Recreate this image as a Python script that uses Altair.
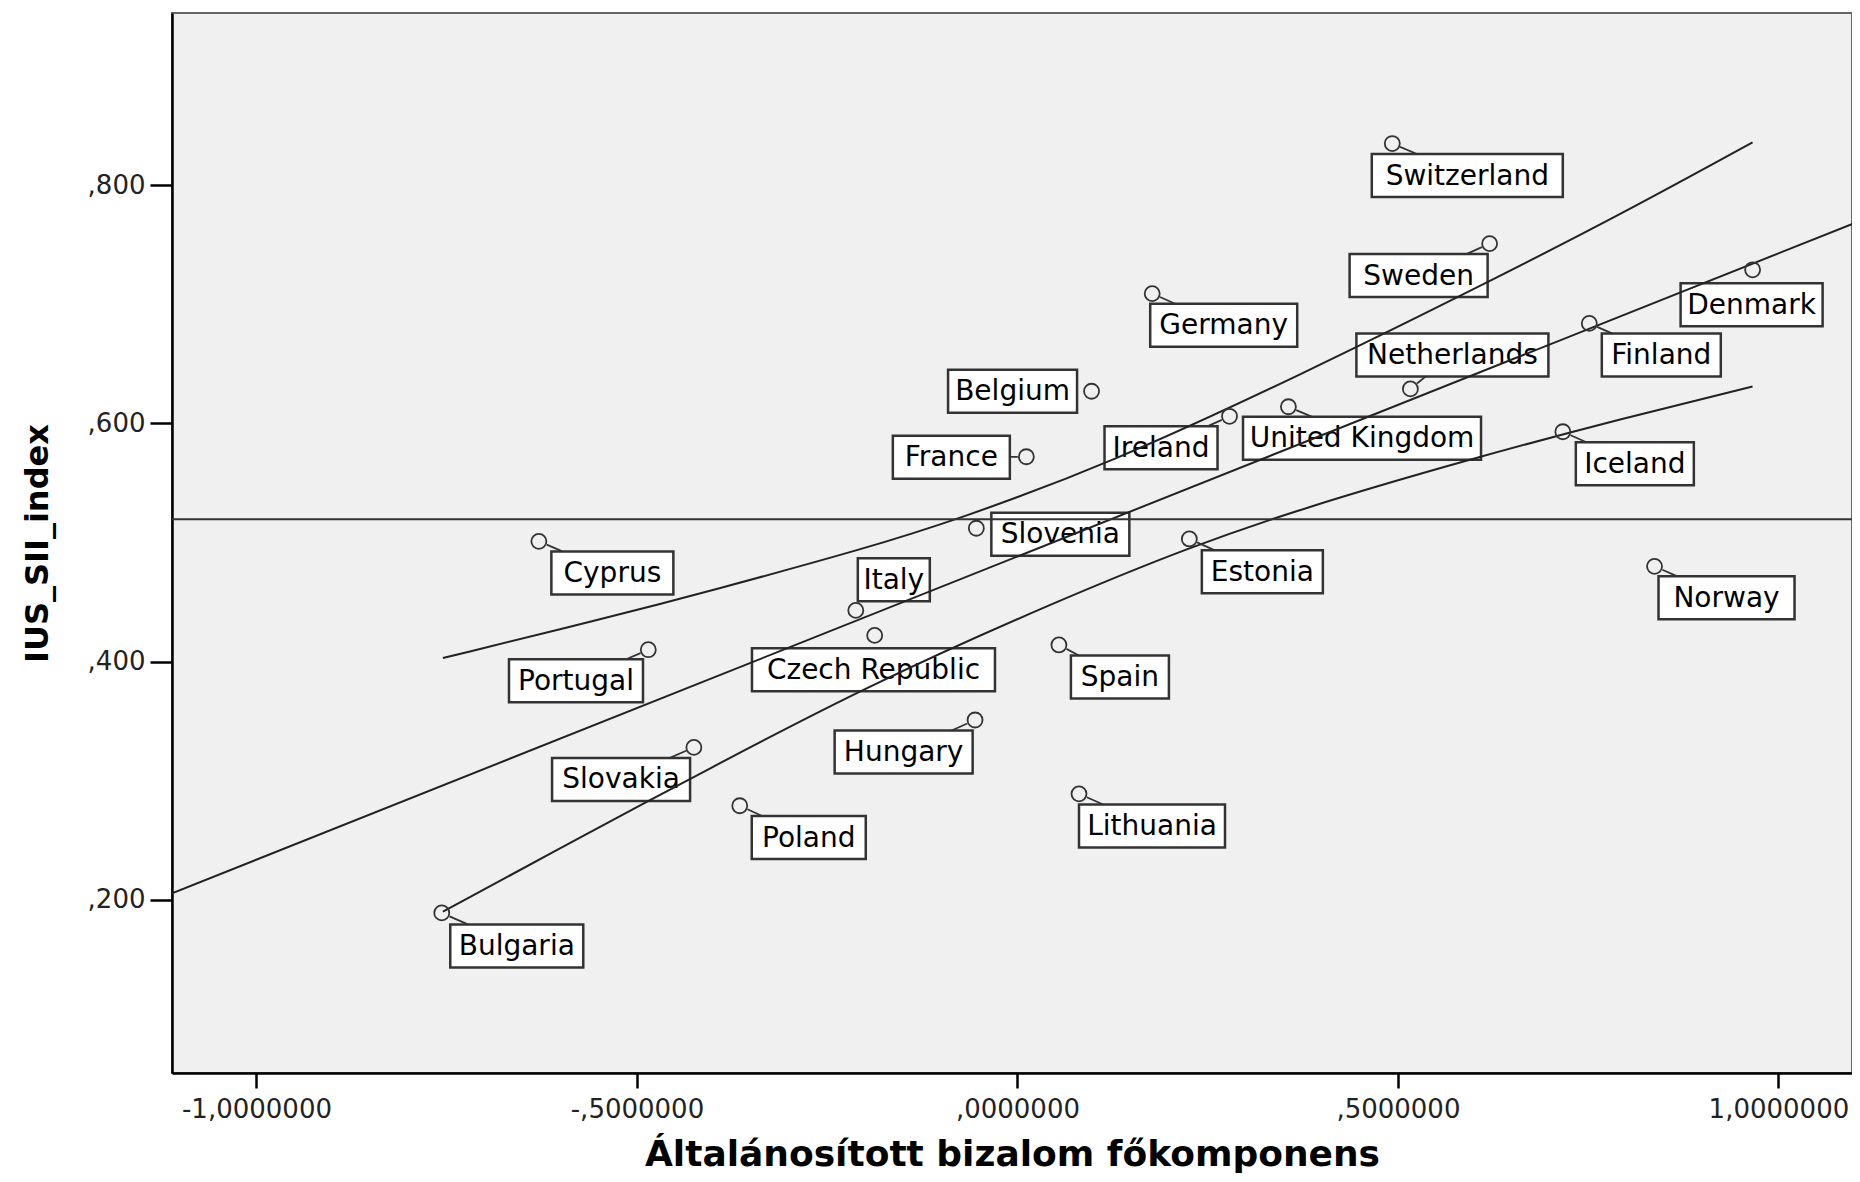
import altair as alt
import pandas as pd
import math

# ---------------- data ----------------
countries = ["Switzerland", "Sweden", "Denmark", "Germany", "Finland", "Belgium",
             "Netherlands", "United Kingdom", "Ireland", "Iceland", "France", "Slovenia",
             "Cyprus", "Estonia", "Norway", "Italy", "Czech Republic", "Portugal",
             "Spain", "Hungary", "Slovakia", "Lithuania", "Poland", "Bulgaria"]
trust = [0.4926, 0.6205, 0.9661, 0.1771, 0.7515, 0.0974,
         0.5164, 0.3561, 0.2787, 0.7167, 0.0117, -0.0540,
         -0.6289, 0.2259, 0.8372, -0.2124, -0.1876, -0.4851,
         0.0545, -0.0557, -0.4252, 0.0809, -0.3649, -0.7565]
ius = [0.835, 0.751, 0.729, 0.709, 0.684, 0.627,
       0.629, 0.614, 0.606, 0.593, 0.572, 0.512,
       0.501, 0.503, 0.480, 0.443, 0.422, 0.410,
       0.414, 0.351, 0.328, 0.289, 0.279, 0.189]

fit_x = [-1.111, 1.107]
fit_y = [0.2055, 0.770]

upper_x = [-0.755, -0.55, -0.40, -0.20, -0.08, 0.12, 0.37, 0.62, 0.80, 0.966]
upper_y = [0.403, 0.435, 0.460, 0.495, 0.519, 0.566, 0.640, 0.719, 0.778, 0.836]
lower_x = [-0.755, -0.55, -0.417, -0.20, 0.056, 0.226, 0.37, 0.594, 0.80, 0.966]
lower_y = [0.190, 0.261, 0.306, 0.379, 0.452, 0.496, 0.528, 0.570, 0.605, 0.631]

x_ticks = [-1.0, -0.5, 0.0, 0.5, 1.0]
y_ticks = [0.2, 0.4, 0.6, 0.8]

# ---------------- layout (pixels) ----------------
W, H = 1680, 1060
KX = 760.97          # px per x unit
X_DOMAIN = [-1.111, -1.111 + W / KX]
Y_DOMAIN = [0.0546, 0.9446]
BOX_H = 43
R = 8.5
# label box: (dx, dy, width) of box centre relative to the point, in px
LABEL_LAYOUT = {
    "Switzerland": (75, 32, 191), "Sweden": (-71, 32, 138), "Denmark": (-1, 35, 142),
    "Germany": (71.5, 31.6, 147), "Finland": (72, 31.7, 119), "Belgium": (-79, 0, 129),
    "Netherlands": (42, -34, 192), "United Kingdom": (73.6, 31.4, 238),
    "Ireland": (-68.5, 31.4, 113), "Iceland": (72, 32, 118), "France": (-75, 0.6, 117),
    "Slovenia": (84, 6, 138), "Cyprus": (73.5, 31.6, 122), "Estonia": (73, 32.7, 121),
    "Norway": (72, 31.5, 136), "Italy": (38, -30.6, 72), "Czech Republic": (-1.2, 34.3, 243),
    "Portugal": (-72.3, 31, 134), "Spain": (61, 32, 98), "Hungary": (-71.4, 32, 138),
    "Slovakia": (-72.8, 32, 138), "Lithuania": (73, 32.2, 146), "Poland": (69, 31.8, 114),
    "Bulgaria": (75, 33, 133),
}

kx = W / (X_DOMAIN[1] - X_DOMAIN[0])
ky = H / (Y_DOMAIN[1] - Y_DOMAIN[0])


def px(x):
    return (x - X_DOMAIN[0]) * kx


def py(y):
    return (Y_DOMAIN[1] - y) * ky


def dx_(p):
    return X_DOMAIN[0] + p / kx


def dy_(p):
    return Y_DOMAIN[1] - p / ky


pts = pd.DataFrame({"country": countries, "x": trust, "y": ius})

box_rows, lead_rows = [], []
for c, x, y in zip(countries, trust, ius):
    ddx, ddy, w = LABEL_LAYOUT[c]
    Px, Py = px(x), py(y)
    Cx, Cy = Px + ddx, Py + ddy
    box_rows.append({"country": c,
                     "bx0": dx_(Cx - w / 2), "bx1": dx_(Cx + w / 2),
                     "by0": dy_(Cy - BOX_H / 2), "by1": dy_(Cy + BOX_H / 2),
                     "cx": dx_(Cx), "cy": dy_(Cy)})
    L = math.hypot(ddx, ddy)
    fx = (w / 2) / abs(ddx) if ddx else float("inf")
    fy = (BOX_H / 2) / abs(ddy) if ddy else float("inf")
    te = 1 - min(fx, fy)
    ts = R / L
    if te > ts and (te - ts) * L >= 7:
        lead_rows.append({"lx0": dx_(Px + ts * ddx), "ly0": dy_(Py + ts * ddy),
                          "lx1": dx_(Px + te * ddx), "ly1": dy_(Py + te * ddy)})
boxes = pd.DataFrame(box_rows)
leads = pd.DataFrame(lead_rows)

curves = pd.DataFrame({
    "x": upper_x + lower_x,
    "y": upper_y + lower_y,
    "curve": ["upper"] * len(upper_x) + ["lower"] * len(lower_x),
})
fit = pd.DataFrame({"x": fit_x, "y": fit_y})

# ---------------- scales & axes ----------------
xscale = alt.Scale(domain=X_DOMAIN, nice=False, zero=False)
yscale = alt.Scale(domain=Y_DOMAIN, nice=False, zero=False)

xaxis = alt.Axis(
    values=x_ticks,
    labelExpr="replace(replace(replace(format(datum.value, '.7f'), '\u2212', '-'), '0.', ','), '.', ',')",
    title="Általánosított bizalom főkomponens",
    tickSize=15, tickWidth=2.5, tickColor="black",
    domainColor="black", domainWidth=2.5,
    labelFont="DejaVu Sans", labelFontSize=26, labelColor="#222", labelPadding=8,
    labelFlush=False, labelOverlap=False,
    titleFont="DejaVu Sans", titleFontSize=36, titleFontWeight="bold", titleColor="black",
    titleY=92, titleBaseline="alphabetic",
    grid=False,
)
yaxis = alt.Axis(
    values=y_ticks,
    labelExpr="replace(format(datum.value, '.3f'), '0.', ',')",
    title="IUS_SII_index",
    tickSize=22, tickWidth=2.5, tickColor="black",
    domainColor="black", domainWidth=2.5,
    labelFont="DejaVu Sans", labelFontSize=26, labelColor="#222", labelPadding=5,
    labelFlush=False, labelOverlap=False,
    titleFont="DejaVu Sans", titleFontSize=32, titleFontWeight="bold", titleColor="black",
    titleX=-125, titleY=H / 2, titleAngle=270, titleAlign="center", titleBaseline="alphabetic",
    grid=False,
)


def X(f):
    return alt.X(f, type="quantitative", scale=xscale, axis=xaxis)


def Y(f):
    return alt.Y(f, type="quantitative", scale=yscale, axis=yaxis)


box_layer = alt.Chart(boxes).mark_rect(fill="white", stroke="#333", strokeWidth=2.5).encode(
    x=X("bx0"), x2="bx1", y=Y("by0"), y2="by1")
text_layer = alt.Chart(boxes).mark_text(
    font="DejaVu Sans", fontSize=28, color="black", align="center", baseline="middle", dy=1
).encode(x=X("cx"), y=Y("cy"), text="country:N")
curve_layer = alt.Chart(curves).mark_line(
    interpolate="basis", color="#222", strokeWidth=2, clip=True
).encode(x=X("x"), y=Y("y"), detail="curve:N")
fit_layer = alt.Chart(fit).mark_line(color="#222", strokeWidth=2, clip=True).encode(
    x=X("x"), y=Y("y"))
mean_layer = alt.Chart(pts).mark_rule(color="#333", strokeWidth=2).encode(
    y=alt.Y("mean(y):Q", scale=yscale, axis=yaxis))
lead_layer = alt.Chart(leads).mark_rule(color="#333", strokeWidth=1.8).encode(
    x=X("lx0"), y=Y("ly0"), x2="lx1", y2="ly1")
point_layer = alt.Chart(pts).mark_point(
    shape="circle", size=225, filled=False, stroke="#333", strokeWidth=1.8, opacity=1
).encode(x=X("x"), y=Y("y"))

chart = alt.layer(
    box_layer, text_layer, curve_layer, fit_layer, mean_layer, lead_layer, point_layer
).properties(
    width=W, height=H,
    autosize=alt.AutoSizeParams(type="none"),
    padding={"left": 164, "top": 5, "right": 0, "bottom": 101},
    background="white",
).configure_view(fill="#f0f0f0", stroke="#666", strokeWidth=2)

chart.save("out.html", embed_options={"renderer": "svg", "actions": False})
